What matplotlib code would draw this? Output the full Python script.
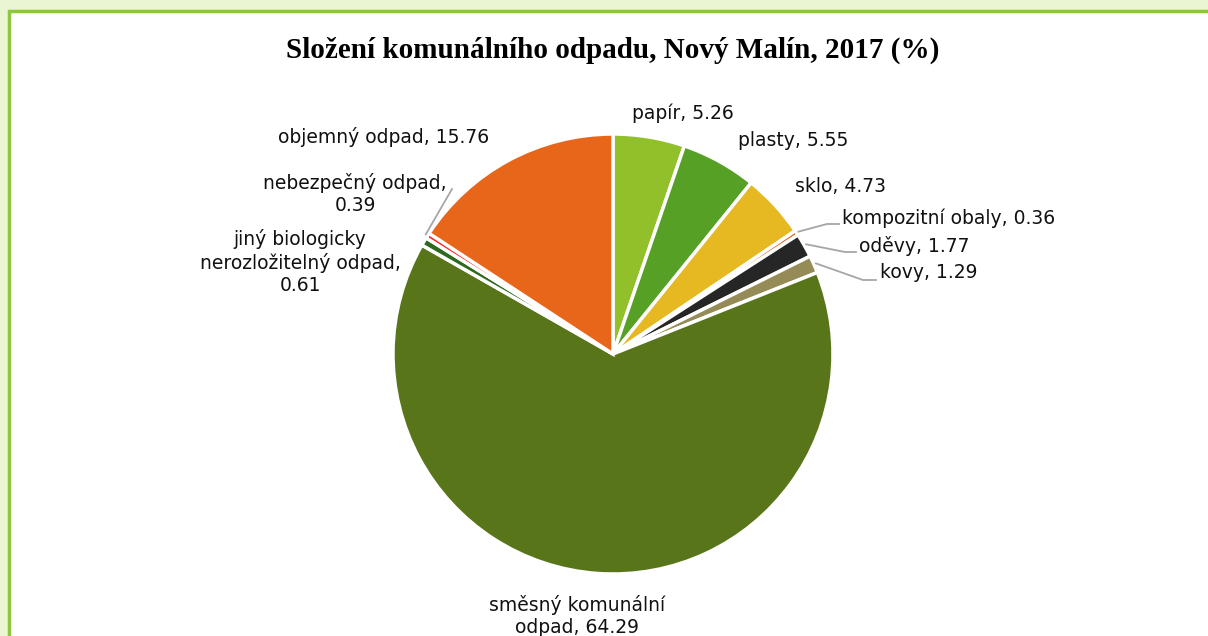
import matplotlib
matplotlib.use("Agg")
import matplotlib.pyplot as plt
from matplotlib.patches import Rectangle
import numpy as np

# data
labels = ["papír", "plasty", "sklo", "kompozitní obaly", "oděvy", "kovy",
          "směsný komunální\nodpad", "jiný biologicky\nnerozložitelný odpad",
          "nebezpečný odpad", "objemný odpad"]
values = [5.26, 5.55, 4.73, 0.36, 1.77, 1.29, 64.29, 0.61, 0.39, 15.76]
colors = ["#92C02A", "#56A026", "#E6B822", "#E8641A", "#262626", "#958B56",
          "#58751A", "#2D6A1E", "#FF2020", "#E8661A"]
label_texts = ["papír, 5.26", "plasty, 5.55", "sklo, 4.73", "kompozitní obaly, 0.36",
               "oděvy, 1.77", "kovy, 1.29", "směsný komunální\nodpad, 64.29",
               "jiný biologicky\nnerozložitelný odpad,\n0.61",
               "nebezpečný odpad,\n0.39", "objemný odpad, 15.76"]

# label placement (pixel coords of the text anchor) and alignment
W, H = 1208, 636
cx, cy, R = 613, 354, 220
label_pos = [(683, 113), (793, 140), (841, 186), (842, 218), (859, 246), (880, 273),
             (577, 616), (300, 262), (355, 194), (384, 137)]
label_ha = ["center", "center", "center", "left", "left", "left",
            "center", "center", "center", "center"]
# leader lines: list of pixel points after the wedge edge
leaders = {3: [(827, 224), (839, 224)],
           4: [(845, 252), (856, 252)],
           5: [(863, 280), (876, 280)],
           8: [(452, 189)]}

fig = plt.figure(figsize=(W / 100, H / 100), dpi=100)
fig.patch.set_facecolor("#EAF5D3")
fig.patches.append(Rectangle((9 / W, -0.1), 1.0, 1.1 - 11 / H, transform=fig.transFigure,
                             facecolor="white", edgecolor="#8DC63F", linewidth=2.5,
                             zorder=-5))

ax = fig.add_axes([(cx - R) / W, (H - cy - R) / H, 2 * R / W, 2 * R / H])
ax.set_zorder(2)
wedges, _ = ax.pie(values, colors=colors, startangle=90, counterclock=False,
                   wedgeprops=dict(edgecolor="white", linewidth=2.5))
ax.set_xlim(-1, 1)
ax.set_ylim(-1, 1)
ax.set_aspect("equal")
ax.axis("off")


def to_data(p):
    return ((p[0] - cx) / R, (cy - p[1]) / R)


for i, w in enumerate(wedges):
    x, y = to_data(label_pos[i])
    ax.text(x, y, label_texts[i], ha=label_ha[i], va="center", fontsize=13.5,
            family="DejaVu Sans", color="#111111", linespacing=1.2, clip_on=False)
    if i in leaders:
        ang = np.deg2rad((w.theta1 + w.theta2) / 2)
        pts = [(np.cos(ang) * 1.01, np.sin(ang) * 1.01)] + [to_data(p) for p in leaders[i]]
        xs, ys = zip(*pts)
        ax.plot(xs, ys, color="#A6A6A6", linewidth=1.3, clip_on=False)

fig.text(613 / W, 1 - 50 / H, "Složení komunálního odpadu, Nový Malín, 2017 (%)",
         ha="center", va="center", fontsize=21, fontweight="bold",
         family="Liberation Serif")

fig.savefig("out.png", dpi=100, facecolor=fig.get_facecolor())
